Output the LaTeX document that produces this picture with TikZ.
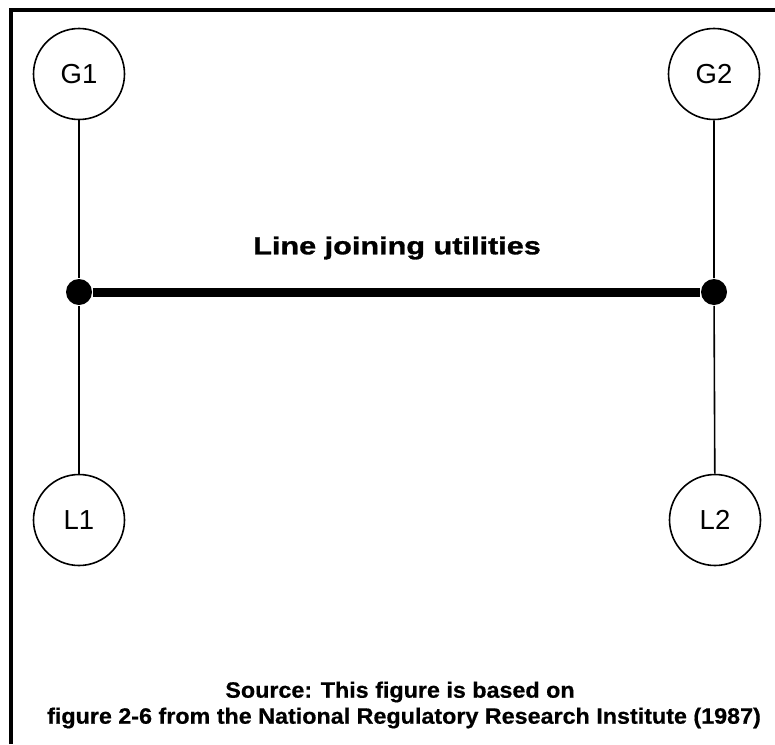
\documentclass[tikz,border=0pt]{standalone}
\usepackage{fontspec}
\setmainfont{Liberation Sans}
\newfontfamily\widebold[FakeStretch=1.25,FakeBold=1.2]{Liberation Sans}
\newfontfamily\notebold[FakeStretch=1.05,FakeBold=0.6]{Liberation Sans}
\begin{document}
\begin{tikzpicture}[x=1pt,y=-1pt,line width=1.6pt]
  \tikzstyle{site}=[circle,draw,minimum size=91pt,inner sep=0pt,font=\fontsize{27.5}{32}\selectfont]
  \tikzstyle{joint}=[circle,fill,minimum size=26pt,inner sep=0pt]
  \tikzstyle{note}=[inner sep=0pt,font=\notebold\bfseries\fontsize{22.2}{26}\selectfont]
  \useasboundingbox (0,0) rectangle (775,744);
  % frame, cut off at right and bottom
  \draw[line width=3.5pt] (11,744) -- (11,10) -- (775,10);
  % utilities
  \node[site] (G1) at (79,74) {G1};
  \node[site] (G2) at (714,74) {G2};
  \node[site] (L1) at (79,520) {L1};
  \node[site] (L2) at (715,520) {L2};
  \node[joint] (J1) at (79,292) {};
  \node[joint] (J2) at (714,292) {};
  \draw (G1) -- (J1) -- (L1);
  \draw (G2) -- (J2) -- (L2);
  \draw[line width=9pt] (J1) -- (J2);
  \node[inner sep=0pt,font=\widebold\bfseries\fontsize{24.5}{29}\selectfont] (tie) at (397,248) {Line joining utilities};
  % source
  \node[note] (src1) at (400,692) {Source: This figure is based on};
  \node[note] (src2) at (404,718) {figure 2-6 from the National Regulatory Research Institute (1987)};
\end{tikzpicture}
\end{document}
